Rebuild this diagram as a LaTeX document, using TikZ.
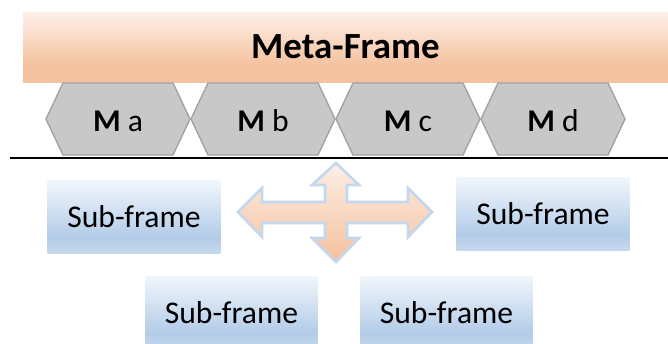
\documentclass[tikz,border=0pt]{standalone}
\usepackage{fontspec}
\setmainfont{Carlito}
\usetikzlibrary{positioning}

\definecolor{metatop}{HTML}{FDF0E8}
\definecolor{metabot}{HTML}{F5C29F}
\definecolor{hexfill}{HTML}{C8C8C8}
\definecolor{hexline}{HTML}{A3A3A3}
\definecolor{subtop}{HTML}{F1F6FC}
\definecolor{subbot}{HTML}{B3CCE8}
\definecolor{crosstop}{HTML}{FCEFE6}
\definecolor{crossbot}{HTML}{F5C09C}
\definecolor{crossline}{HTML}{C3D8EE}

\pgfdeclareverticalshading{metashade}{100bp}{%
    color(0bp)=(metabot); color(25bp)=(metabot); color(37bp)=(metabot);
    color(75bp)=(metatop); color(100bp)=(metatop)}
\pgfdeclareverticalshading{subshade}{100bp}{%
    color(0bp)=(subbot!75); color(25bp)=(subbot!75); color(36bp)=(subbot);
    color(75bp)=(subtop); color(100bp)=(subtop)}

\tikzset{
    metabar/.style={rectangle, shading=metashade, minimum width=12.9cm,
        minimum height=1.4cm, inner sep=0pt,
        font=\fontsize{21}{25}\selectfont\bfseries},
    hexlabel/.style={inner sep=0pt, font=\fontsize{18}{21}\selectfont},
    subbox/.style={rectangle, shading=subshade, minimum width=3.46cm,
        minimum height=1.46cm, inner sep=0pt,
        font=\fontsize{18}{22}\selectfont}
}

\begin{document}
\begin{tikzpicture}[x=0.02cm, y=-0.02cm]

\clip (0,0) rectangle (668,343);
\fill[white] (0,0) rectangle (668,343);

% --- Meta-Frame ---
\node[metabar] (meta) at (345.5,47) {Meta-Frame};

% --- Teile a bis d ---
\foreach \name [count=\i from 0] in {a,b,c,d} {
    \draw[fill=hexfill, draw=hexline, line width=0.8pt]
        ({118+145*\i-72},119) -- ({118+145*\i-55},83) -- ({118+145*\i+55},83)
        -- ({118+145*\i+72},119) -- ({118+145*\i+55},155) -- ({118+145*\i-55},155)
        -- cycle;
    \node[hexlabel] (m\name) at ({118+145*\i},121) {\textbf{M} \name};
}

% --- Trennlinie ---
\draw[line width=1.5pt] (10,158) -- (668,158);

% --- Sub-frames ---
\node[subbox] (sub1) at (134,217) {Sub-frame};
\node[subbox] (sub2) at (543,214) {Sub-frame};
\node[subbox] (sub3) at (231.5,312.5) {Sub-frame};
\node[subbox] (sub4) at (446.5,312.5) {Sub-frame};

% --- Kreuzpfeil ---
\draw[top color=crosstop, bottom color=crossbot, draw=crossline, line width=1.5pt,
      line join=miter]
    (238,212) -- (262,188) -- (262,202) -- (325,202) -- (325,185) -- (312,185)
    -- (336,163) -- (359,185) -- (347,185) -- (347,202) -- (408,202) -- (408,188)
    -- (432,212) -- (408,237) -- (408,223) -- (347,223) -- (347,238) -- (359,238)
    -- (336,262) -- (312,238) -- (325,238) -- (325,223) -- (262,223) -- (262,237)
    -- cycle;

\end{tikzpicture}
\end{document}
